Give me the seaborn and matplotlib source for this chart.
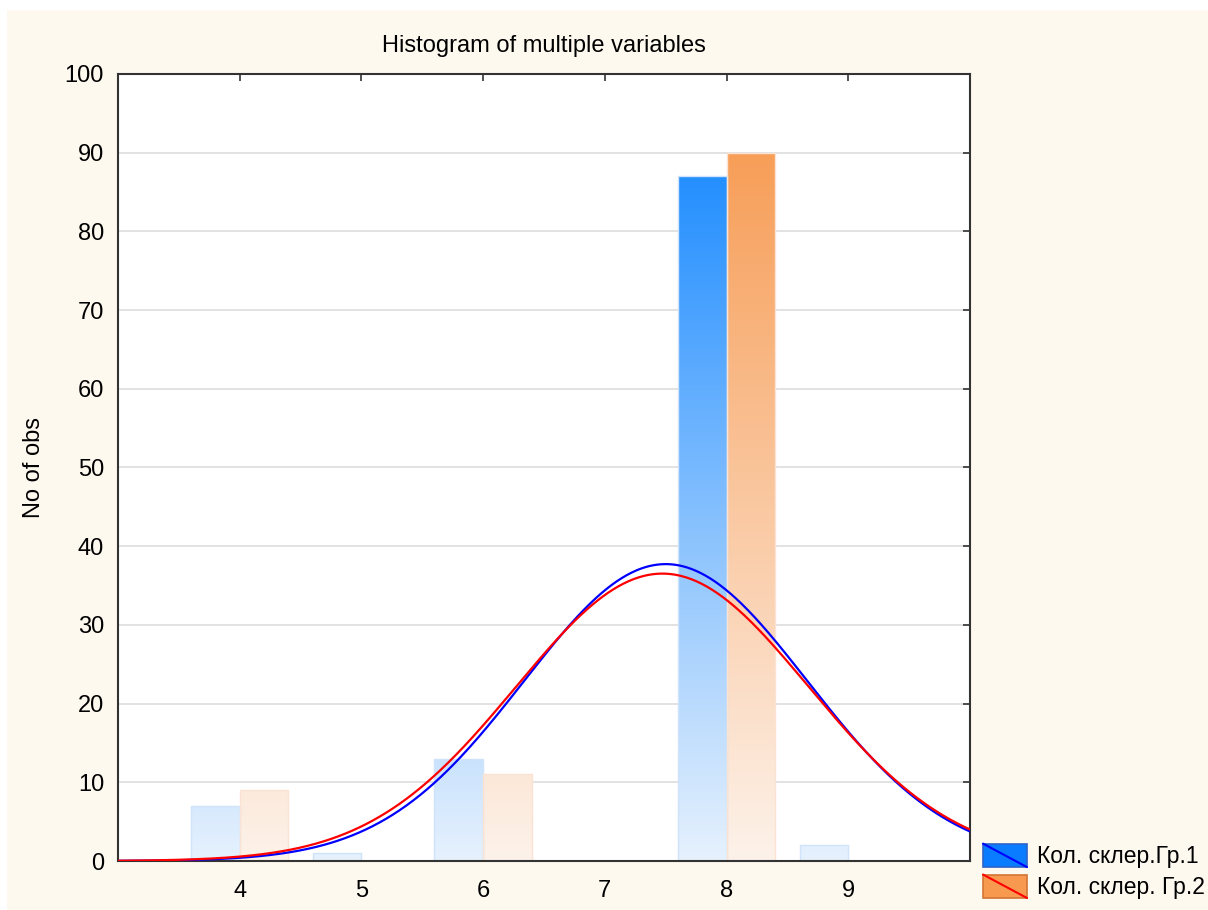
import numpy as np
import pandas as pd
import seaborn as sns
import matplotlib.pyplot as plt
from matplotlib.colors import LinearSegmentedColormap, to_hex
from matplotlib.legend_handler import HandlerBase
from matplotlib.patches import Rectangle
from matplotlib.lines import Line2D

# data
values = [4, 5, 6, 8, 9]
counts_gr1 = [7, 1, 13, 87, 2]
counts_gr2 = [9, 0, 11, 90, 0]
labels = ['Кол. склер.Гр.1', 'Кол. склер. Гр.2']
yticks = list(range(0, 101, 10))
xticks = [4, 5, 6, 7, 8, 9]

df = pd.DataFrame({
    'value': values * 2,
    'count': counts_gr1 + counts_gr2,
    'group': [labels[0]] * len(values) + [labels[1]] * len(values),
})

sns.set_style('white')
plt.rcParams['font.family'] = ['Liberation Sans', 'DejaVu Sans']
plt.rcParams['text.color'] = 'black'
plt.rcParams['axes.labelcolor'] = 'black'

W, H = 1208, 910
fig = plt.figure(figsize=(W / 100, H / 100), dpi=100)
fig.patch.set_facecolor('#fef9ef')
# white screenshot margin top / left
fig.patches.append(Rectangle((0, 1 - 10 / H), 1, 10 / H, transform=fig.transFigure,
                             facecolor='white', edgecolor='none'))
fig.patches.append(Rectangle((0, 0), 7 / W, 1, transform=fig.transFigure,
                             facecolor='white', edgecolor='none'))

ax = fig.add_axes([118 / W, 1 - 861 / H, (970 - 118) / W, (861 - 74) / H])
ax.set_facecolor('white')

blue_top, blue_bot = '#1e8cff', '#e6f1fd'
orng_top, orng_bot = '#f79e58', '#fdf2ea'
cmaps = {
    labels[0]: LinearSegmentedColormap.from_list('b', [blue_bot, blue_top]),
    labels[1]: LinearSegmentedColormap.from_list('o', [orng_bot, orng_top]),
}

sns.barplot(data=df, x='value', y='count', hue='group', native_scale=True,
            width=0.8, palette=[blue_top, orng_top], saturation=1,
            errorbar=None, legend=False, ax=ax)

# replace flat fill with a vertical gradient (absolute in y)
grad = np.linspace(0, 1, 256).reshape(-1, 1)
col2grp = {to_hex(blue_top): labels[0], to_hex(orng_top): labels[1]}
for p in list(ax.patches):
    h = p.get_height()
    if h <= 0:
        continue
    grp = col2grp[to_hex(p.get_facecolor())]
    edge = '#cfe3fb' if grp == labels[0] else '#fbe3d3'
    x0 = p.get_x()
    x1 = x0 + p.get_width()
    im = ax.imshow(grad, extent=[x0, x1, 0, 90], origin='lower', aspect='auto',
                   cmap=cmaps[grp], zorder=1.5)
    im.set_clip_path(p)
    p.set_facecolor('none')
    p.set_edgecolor(edge)
    p.set_linewidth(1.0)
    p.set_zorder(1.6)

# fitted normal curves
xs = np.linspace(3, 10, 500)
for counts, color in [(counts_gr1, '#0000ff'), (counts_gr2, '#ff0000')]:
    v = np.repeat(values, counts)
    mu, sd = v.mean(), v.std(ddof=1)
    ys = len(v) * np.exp(-0.5 * ((xs - mu) / sd) ** 2) / (sd * np.sqrt(2 * np.pi))
    sns.lineplot(x=xs, y=ys, color=color, lw=1.6, ax=ax, zorder=3)

ax.set_xlim(3, 10)
ax.set_ylim(0, 100)
ax.set_xticks(xticks)
ax.set_yticks(yticks)
ax.yaxis.grid(True, color='#dddddd', lw=1.2)
ax.xaxis.grid(False)
ax.set_axisbelow(True)
for s in ax.spines.values():
    s.set_color('#333333')
    s.set_linewidth(1.5)
ax.tick_params(direction='in', top=True, right=True, length=5, width=1.2,
               color='#333333', labelsize=17, labelcolor='black')
ax.tick_params(axis='x', pad=14)
ax.tick_params(axis='y', pad=10)
ax.set_xlabel('')
ax.set_ylabel('No of obs', fontsize=17, labelpad=14)
ax.set_title('Histogram of multiple variables', fontsize=17, pad=16)


class HandlerSlash(HandlerBase):
    def __init__(self, face, edge, line):
        super().__init__()
        self.face, self.edge, self.line = face, edge, line

    def create_artists(self, legend, orig_handle, xdescent, ydescent,
                       width, height, fontsize, trans):
        r = Rectangle((-xdescent, -ydescent), width, height, facecolor=self.face,
                      edgecolor=self.edge, lw=1.2, transform=trans)
        ln = Line2D([-xdescent, -xdescent + width], [-ydescent + height, -ydescent],
                    color=self.line, lw=1.5, transform=trans)
        return [r, ln]


h1 = Rectangle((0, 0), 1, 1)
h2 = Rectangle((0, 0), 1, 1)
fig.legend([h1, h2], labels, loc='lower left',
           bbox_to_anchor=(983 / W, 1 - 899 / H), frameon=False, fontsize=16.5,
           handlelength=1.92, handleheight=1.2, handletextpad=0.45,
           labelspacing=0.28, borderpad=0, borderaxespad=0,
           handler_map={h1: HandlerSlash('#0a7cff', '#2a64c8', '#0000ff'),
                        h2: HandlerSlash('#f79a50', '#d27434', '#ff0000')})

fig.savefig('out.png', dpi=100)
